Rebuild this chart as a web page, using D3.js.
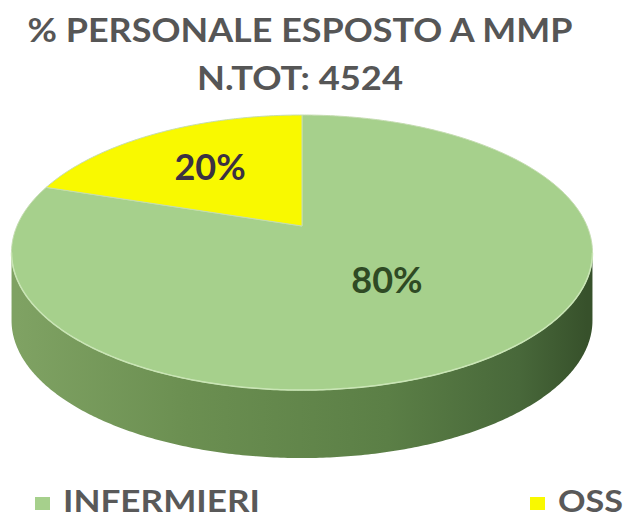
<!DOCTYPE html>
<html>
<head>
<meta charset="utf-8">
<script src="https://cdn.jsdelivr.net/npm/d3@7/dist/d3.min.js"></script>
<style>
  body { margin: 0; background: #fff; }
  text { font-family: Lato, "Open Sans", sans-serif; }
</style>
</head>
<body>
<svg id="chart" width="636" height="521"></svg>
<script>
// data
var categories = ['INFERMIERI', 'OSS'];
var values = [80, 20];
var titleLines = ['% PERSONALE ESPOSTO A MMP', 'N.TOT: 4524'];

var svg = d3.select('#chart');

// 3d pie geometry (perspective ellipse)
var cx = 302, cy = 226, rx = 285, ry = 132.4, k = 0.193, depth = 68;

var color = d3.scaleOrdinal().domain(categories).range(['#a6d08c', '#f9f900']);
var labelColor = d3.scaleOrdinal().domain(categories).range(['#2f4a24', '#3b3142']);

// angle is clockwise from 12 o'clock, same as d3.pie
function project(a, r) {
  var u = r * Math.sin(a), w = r * Math.cos(a);
  var s = 1 + k * w;
  return [cx + rx * u / s, cy - ry * w / s];
}

function arcPoints(a0, a1, r) {
  var n = Math.max(2, Math.ceil((a1 - a0) / 0.01));
  return d3.range(n + 1).map(function(i) {
    return project(a0 + (a1 - a0) * i / n, r);
  });
}

var line = d3.line();

var pie = d3.pie().sort(null).startAngle(0).endAngle(2 * Math.PI);
var arcs = pie(values).map(function(d, i) { d.cat = categories[i]; return d; });

// find where the side of the cake becomes visible (extreme x of outline)
var samples = d3.range(0, 2 * Math.PI, 0.002);
var aRight = samples[d3.maxIndex(samples, function(a) { return project(a, 1)[0]; })];
var aLeft = samples[d3.minIndex(samples, function(a) { return project(a, 1)[0]; })];

var defs = svg.append('defs');
var grad = defs.append('linearGradient')
    .attr('id', 'sideGrad')
    .attr('gradientUnits', 'userSpaceOnUse')
    .attr('x1', cx - rx).attr('x2', cx + rx)
    .attr('y1', 0).attr('y2', 0);
[[0, '#7fa263'], [0.3, '#6b8f51'], [0.65, '#5b7f46'], [0.88, '#48683a'], [1, '#37512b']].forEach(function(s) {
  grad.append('stop').attr('offset', s[0]).attr('stop-color', s[1]);
});

// sides
svg.append('g').selectAll('path')
  .data(arcs.filter(function(d) { return Math.max(d.startAngle, aRight) < Math.min(d.endAngle, aLeft); }))
  .enter().append('path')
    .attr('d', function(d) {
      var top = arcPoints(Math.max(d.startAngle, aRight), Math.min(d.endAngle, aLeft), 1);
      var bottom = top.slice().reverse().map(function(p) { return [p[0], p[1] + depth]; });
      return line(top.concat(bottom)) + 'Z';
    })
    .style('fill', 'url(#sideGrad)');

// tops
svg.append('g').selectAll('path')
  .data(arcs)
  .enter().append('path')
    .attr('d', function(d) {
      return line([project(0, 0)].concat(arcPoints(d.startAngle, d.endAngle, 1))) + 'Z';
    })
    .style('fill', function(d) { return color(d.cat); })
    .style('stroke', '#c4dcb0')
    .style('stroke-width', 1);

// light rim along the front edge
svg.append('path')
    .attr('d', line(arcPoints(aRight, aLeft, 1)))
    .style('fill', 'none')
    .style('stroke', '#c9e5b5')
    .style('stroke-width', 1.5);

// percentage labels
var total = d3.sum(values);
function labelPos(d) {
  var big = d.endAngle - d.startAngle > Math.PI;
  return project((d.startAngle + d.endAngle) / 2, big ? 0.47 : 0.6);
}
svg.append('g').selectAll('text')
  .data(arcs)
  .enter().append('text')
    .attr('x', function(d) { return labelPos(d)[0]; })
    .attr('y', function(d) { return labelPos(d)[1]; })
    .attr('dy', '0.36em')
    .attr('text-anchor', 'middle')
    .style('font-size', '36px')
    .style('font-weight', 'bold')
    .style('fill', function(d) { return labelColor(d.cat); })
    .text(function(d) { return Math.round(d.value / total * 100) + '%'; });

// title (reference text is a bit wider than Lato, so stretch it)
var titleWidths = [545, 206];
svg.append('g').selectAll('text')
  .data(titleLines)
  .enter().append('text')
    .attr('x', 300)
    .attr('y', function(d, i) { return 42 + i * 48; })
    .attr('text-anchor', 'middle')
    .attr('textLength', function(d, i) { return titleWidths[i]; })
    .attr('lengthAdjust', 'spacingAndGlyphs')
    .style('font-size', '33px')
    .style('font-weight', 'bold')
    .style('fill', '#565656')
    .text(function(d) { return d; });

// legend
var legendX = d3.scalePoint().domain(categories).range([35, 530]);
var legendWidths = [197, 65];
var legend = svg.append('g').selectAll('g')
  .data(categories)
  .enter().append('g')
    .attr('transform', function(d) { return 'translate(' + legendX(d) + ',497)'; });
legend.append('rect')
    .attr('width', 15).attr('height', 13)
    .style('fill', function(d) { return color(d); });
legend.append('text')
    .attr('x', 28).attr('y', 15)
    .attr('textLength', function(d, i) { return legendWidths[i]; })
    .attr('lengthAdjust', 'spacingAndGlyphs')
    .style('font-size', '30px')
    .style('font-weight', 'bold')
    .style('fill', '#595959')
    .text(function(d) { return d; });
</script>
</body>
</html>
